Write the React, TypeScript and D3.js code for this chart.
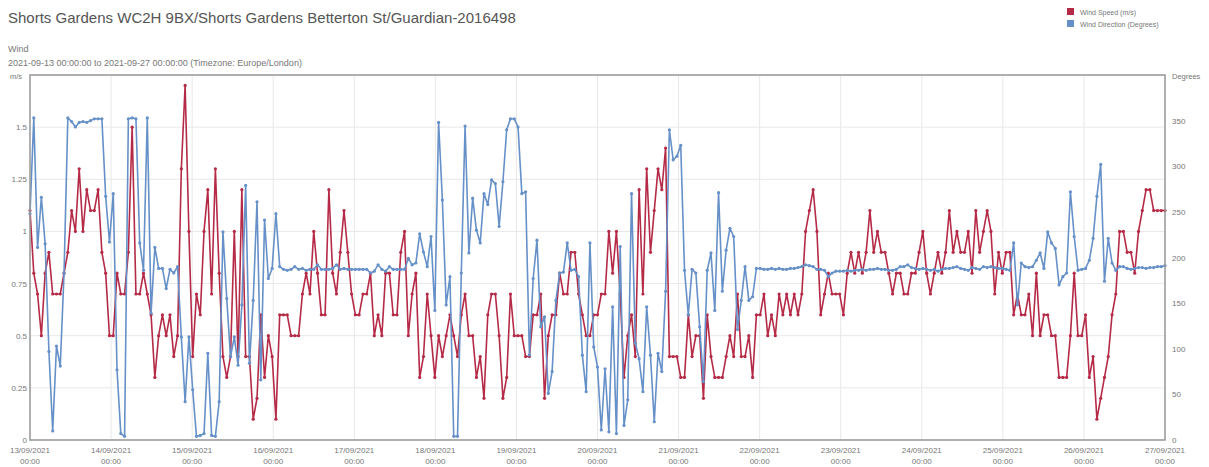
import React from 'react';
import * as d3 from 'd3';

const title = "Shorts Gardens WC2H 9BX/Shorts Gardens Betterton St/Guardian-2016498";
const subtitleName = "Wind";
const subtitleRange = "2021-09-13 00:00:00 to 2021-09-27 00:00:00 (Timezone: Europe/London)";
const legendLabels = ["Wind Speed (m/s)", "Wind Direction (Degrees)"];
const dayLabels = [
  "13/09/2021", "14/09/2021", "15/09/2021", "16/09/2021", "17/09/2021",
  "18/09/2021", "19/09/2021", "20/09/2021", "21/09/2021", "22/09/2021",
  "23/09/2021", "24/09/2021", "25/09/2021", "26/09/2021", "27/09/2021",
];
const speedTicks = [0, 0.25, 0.5, 0.75, 1, 1.25, 1.5, 1.75];
const speedTickLabels = ["0", "0.25", "0.5", "0.75", "1", "1.25", "1.5", ""];
const dirTicks = [0, 50, 100, 150, 200, 250, 300, 350];

// Wind speed (m/s)
const speed = [
  1.1, 0.8, 0.7, 0.5, 0.8, 0.9, 0.7, 0.7, 0.7, 0.8,
  0.9, 1.1, 1.0, 1.3, 1.0, 1.2, 1.1, 1.1, 1.2, 0.9,
  0.8, 0.5, 0.5, 0.8, 0.7, 0.7, 0.9, 1.5, 0.7, 0.7,
  0.8, 0.7, 0.6, 0.3, 0.5, 0.6, 0.5, 0.6, 0.4, 0.5,
  1.3, 1.7, 1.0, 0.4, 0.7, 0.6, 1.0, 1.2, 0.7, 1.3,
  0.8, 0.4, 0.3, 0.4, 1.0, 0.4, 1.2, 0.4, 0.4, 0.1,
  0.2, 0.6, 0.3, 0.5, 0.4, 0.1, 0.6, 0.6, 0.6, 0.5,
  0.5, 0.5, 0.7, 0.8, 0.7, 1.0, 0.8, 0.6, 0.6, 1.2,
  0.8, 0.7, 0.9, 1.1, 0.9, 0.7, 0.6, 0.6, 0.7, 0.7,
  0.8, 0.5, 0.6, 0.5, 0.8, 0.8, 0.6, 0.6, 0.9, 1.0,
  0.5, 0.7, 0.8, 0.3, 0.4, 0.7, 0.5, 0.3, 0.5, 0.4,
  0.5, 0.6, 0.5, 0.4, 0.6, 0.7, 0.5, 0.5, 0.3, 0.4,
  0.2, 0.6, 0.7, 0.7, 0.5, 0.2, 0.3, 0.7, 0.5, 0.5,
  0.5, 0.4, 0.4, 0.6, 0.6, 0.7, 0.2, 0.5, 0.6, 0.6,
  0.8, 0.7, 0.7, 0.9, 0.9, 0.7, 0.6, 0.5, 0.5, 0.6,
  0.6, 0.7, 0.7, 1.0, 0.8, 1.0, 0.7, 0.3, 0.5, 0.6,
  0.4, 1.2, 0.7, 1.3, 0.9, 1.1, 1.3, 1.2, 1.4, 0.4,
  0.4, 0.4, 0.3, 0.3, 0.6, 0.4, 0.5, 0.5, 0.2, 0.6,
  0.4, 0.3, 0.3, 0.3, 0.4, 0.5, 0.4, 0.7, 0.4, 0.4,
  0.5, 0.3, 0.6, 0.6, 0.7, 0.5, 0.6, 0.5, 0.7, 0.6,
  0.7, 0.6, 0.7, 0.6, 0.7, 1.0, 1.1, 1.2, 1.0, 0.6,
  0.7, 0.8, 0.7, 0.7, 0.7, 0.6, 0.8, 0.9, 0.8, 0.9,
  0.8, 0.9, 1.1, 0.9, 1.0, 0.9, 0.9, 0.8, 0.7, 0.8,
  0.8, 0.7, 0.7, 0.8, 0.8, 0.9, 1.0, 0.8, 0.7, 0.8,
  0.9, 0.8, 0.9, 1.1, 0.9, 1.0, 0.9, 0.9, 1.0, 0.8,
  1.1, 0.9, 1.0, 1.1, 1.0, 0.7, 0.9, 0.8, 0.9, 0.9,
  0.6, 0.7, 0.6, 0.6, 0.7, 0.5, 0.8, 0.5, 0.6, 0.6,
  0.5, 0.5, 0.3, 0.3, 0.3, 0.5, 0.8, 0.5, 0.5, 0.6,
  0.3, 0.4, 0.1, 0.2, 0.3, 0.4, 0.6, 0.7, 1.0, 1.0,
  0.9, 0.9, 0.8, 1.0, 1.1, 1.2, 1.2, 1.1, 1.1, 1.1,
  1.1,
];

// Wind direction (degrees)
const direction = [
  248, 353, 211, 266, 215, 97, 10, 103, 81, 183,
  353, 349, 343, 348, 349, 348, 350, 352, 352, 352,
  267, 217, 270, 77, 7, 4, 352, 353, 352, 216,
  186, 353, 139, 211, 188, 188, 166, 187, 183, 190,
  113, 42, 113, 55, 4, 5, 7, 95, 5, 4,
  42, 228, 155, 91, 113, 82, 148, 279, 84, 153,
  261, 66, 241, 177, 188, 248, 190, 187, 186, 187,
  190, 187, 188, 186, 187, 187, 192, 187, 187, 187,
  188, 192, 187, 188, 187, 187, 187, 187, 187, 187,
  183, 185, 192, 187, 185, 190, 187, 187, 187, 187,
  199, 192, 194, 226, 206, 190, 223, 142, 348, 263,
  148, 179, 4, 4, 183, 344, 205, 265, 230, 216,
  270, 258, 285, 281, 234, 283, 340, 352, 352, 343,
  270, 272, 93, 177, 219, 124, 135, 51, 75, 153,
  183, 184, 216, 186, 187, 179, 93, 53, 216, 102,
  80, 11, 78, 9, 146, 7, 212, 16, 44, 270,
  106, 89, 53, 146, 93, 20, 95, 75, 163, 340,
  307, 311, 323, 186, 137, 187, 183, 124, 64, 186,
  205, 142, 271, 163, 208, 232, 223, 121, 153, 190,
  153, 157, 188, 188, 187, 187, 188, 187, 188, 187,
  187, 188, 188, 189, 190, 192, 191, 190, 187, 187,
  186, 179, 183, 185, 185, 185, 186, 185, 186, 186,
  187, 186, 187, 187, 188, 187, 187, 186, 186, 187,
  190, 190, 192, 189, 188, 187, 188, 187, 186, 187,
  185, 187, 188, 188, 189, 190, 188, 187, 186, 189,
  188, 187, 190, 189, 190, 189, 188, 188, 187, 186,
  216, 148, 194, 190, 189, 190, 197, 205, 188, 228,
  216, 210, 170, 179, 183, 272, 223, 186, 187, 188,
  197, 221, 267, 302, 174, 221, 194, 186, 190, 190,
  188, 187, 188, 189, 189, 188, 189, 189, 190, 190,
  191,
];

const RED = "#b52a46";
const BLUE = "#6690c8";
const FONT = "'Liberation Sans', Arial, sans-serif";

export default function App() {
  const W = 1209, H = 467;
  const left = 30, right = 1165, top = 75, bottom = 440;
  const start = new Date(2021, 8, 13);
  const end = new Date(2021, 8, 27);
  const x = d3.scaleTime().domain([start, end]).range([left, right]);
  const yS = d3.scaleLinear().domain([0, 1.75]).range([bottom, top]);
  const yD = d3.scaleLinear().domain([0, 400]).range([bottom, top]);
  const step = (+end - +start) / (speed.length - 1);
  const times = speed.map((_, i) => new Date(+start + i * step));
  const days = d3.timeDay.range(start, d3.timeDay.offset(end, 1));

  const speedLine = d3.line<number>().x((_, i) => x(times[i])).y((d) => yS(d));
  const dirLine = d3.line<number>().x((_, i) => x(times[i])).y((d) => yD(d));

  return (
    <svg width={W} height={H} style={{ position: 'absolute', left: 0, top: 0, background: '#fff' }} fontFamily={FONT}>
      <text x={8} y={23} fontSize={15} fill="#555">{title}</text>
      <text x={8} y={52} fontSize={9} fill="#777">{subtitleName}</text>
      <text x={8} y={66} fontSize={9} fill="#777">{subtitleRange}</text>

      {/* legend */}
      <rect x={1067} y={8} width={7} height={7} fill={RED} />
      <text x={1080} y={14.5} fontSize={7} fill="#777">{legendLabels[0]}</text>
      <rect x={1067} y={20} width={7} height={7} fill={BLUE} />
      <text x={1080} y={26.5} fontSize={7} fill="#777">{legendLabels[1]}</text>

      {/* grid */}
      {speedTicks.map((t) => (
        <line key={'h' + t} x1={left} x2={right} y1={yS(t)} y2={yS(t)} stroke="#e8e8e8" strokeWidth={1} />
      ))}
      {days.map((d, i) => (
        <line key={'v' + i} x1={x(d)} x2={x(d)} y1={top} y2={bottom} stroke="#e8e8e8" strokeWidth={1} />
      ))}

      {/* axis labels */}
      <text x={10} y={79} fontSize={7.5} fill="#777">m/s</text>
      <text x={1172} y={79} fontSize={7.5} fill="#777">Degrees</text>
      {speedTicks.map((t, i) => (
        <text key={'sl' + t} x={27} y={yS(t) + 3} fontSize={8} fill="#777" textAnchor="end">{speedTickLabels[i]}</text>
      ))}
      {dirTicks.map((t) => (
        <text key={'dl' + t} x={1172} y={yD(t) + 3} fontSize={8} fill="#777">{t}</text>
      ))}
      {days.map((d, i) => (
        <g key={'xl' + i}>
          <text x={x(d)} y={453} fontSize={8} fill="#777" textAnchor="middle">{dayLabels[i]}</text>
          <text x={x(d)} y={464} fontSize={8} fill="#777" textAnchor="middle">00:00</text>
        </g>
      ))}

      {/* series */}
      <path d={speedLine(speed) || ''} fill="none" stroke={RED} strokeWidth={1.6} strokeLinejoin="round" />
      {speed.map((v, i) => (
        <circle key={'sp' + i} cx={x(times[i])} cy={yS(v)} r={1.6} fill={RED} />
      ))}
      <path d={dirLine(direction) || ''} fill="none" stroke={BLUE} strokeWidth={1.6} strokeLinejoin="round" />
      {direction.map((v, i) => (
        <circle key={'dp' + i} cx={x(times[i])} cy={yD(v)} r={1.6} fill={BLUE} />
      ))}

      {/* frame */}
      <rect x={left} y={top} width={right - left} height={bottom - top} fill="none" stroke="#999" strokeWidth={1.5} />
    </svg>
  );
}
